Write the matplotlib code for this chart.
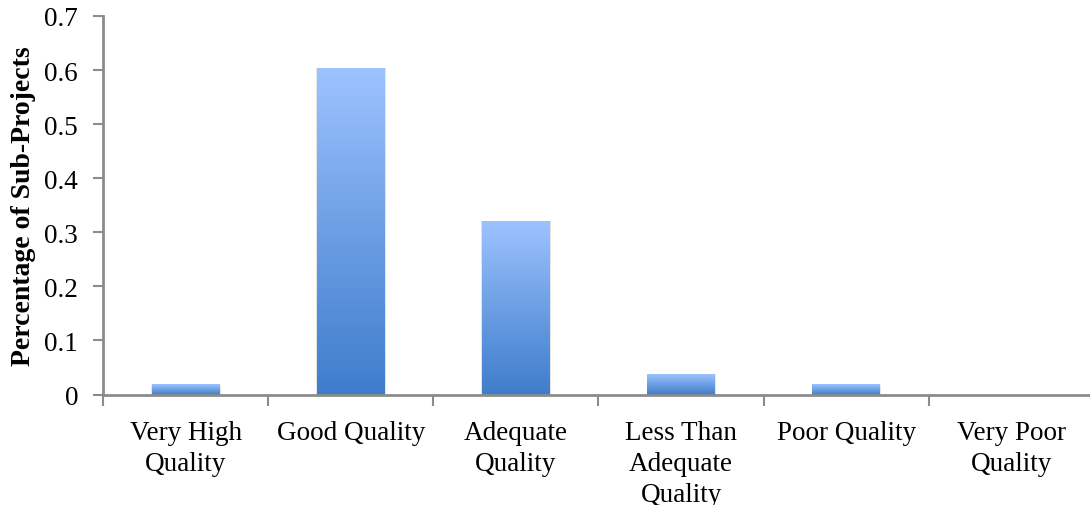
import matplotlib
matplotlib.use("Agg")
import matplotlib.pyplot as plt
import numpy as np
from matplotlib.colors import LinearSegmentedColormap

categories = ["Very High\nQuality", "Good Quality", "Adequate\nQuality",
              "Less Than\nAdequate\nQuality", "Poor Quality", "Very Poor\nQuality"]
shares = [0.019, 0.604, 0.321, 0.038, 0.019, 0.0]
y_ticks = [0, 0.1, 0.2, 0.3, 0.4, 0.5, 0.6, 0.7]
y_tick_labels = ["0", "0.1", "0.2", "0.3", "0.4", "0.5", "0.6", "0.7"]

plt.rcParams['font.family'] = ['Liberation Serif', 'DejaVu Serif']

fig = plt.figure(figsize=(10.9, 5.06), dpi=100)
ax = fig.add_axes([103 / 1090, 1 - 395.5 / 506, 991 / 1090, (395.5 - 17) / 506])

# light-to-dark vertical fill, stretched over each bar
grad = LinearSegmentedColormap.from_list("bar", ["#3e7dcc", "#6c9fe4", "#9dc3ff"])
gradient = np.linspace(0, 1, 256).reshape(-1, 1)

x = np.arange(len(categories))
bars = ax.bar(x, shares, width=0.41, color="none", edgecolor="none", zorder=3)
for b, v in zip(bars, shares):
    if v <= 0:
        continue
    x0, w = b.get_x(), b.get_width()
    # soft drop shadow
    ax.add_patch(plt.Rectangle((x0 - 0.004, -0.002), w + 0.012, v + 0.001,
                               facecolor="#000000", alpha=0.10, edgecolor="none",
                               zorder=2))
    im = ax.imshow(gradient, cmap=grad, origin="lower", aspect="auto",
                   extent=(x0, x0 + w, 0, v), zorder=3, interpolation="bilinear")
    im.set_clip_path(b)

ax.set_xlim(-0.5, len(categories) - 0.5)
ax.set_ylim(0, 0.7)

ax.set_yticks(y_ticks)
ax.set_yticklabels(y_tick_labels, fontsize=19.5)
ax.set_xticks(x)
ax.set_xticklabels(categories, fontsize=19.5, linespacing=1.32)
ax.set_xticks(np.arange(len(categories) + 1) - 0.5, minor=True)
ax.tick_params(axis="x", which="major", length=0, pad=18)
ax.tick_params(axis="x", which="minor", length=8, width=1.5, color="#8c8c8c",
               direction="out")
ax.tick_params(axis="y", length=7, width=1.5, color="#8c8c8c", pad=11)

ax.set_ylabel("Percentage of Sub-Projects", fontsize=20, fontweight="bold",
              labelpad=6)

for side in ("top", "right"):
    ax.spines[side].set_visible(False)
for side in ("left", "bottom"):
    ax.spines[side].set_color("#8c8c8c")
    ax.spines[side].set_linewidth(2)
    ax.spines[side].set_zorder(4)

fig.savefig("out.png", dpi=100)
